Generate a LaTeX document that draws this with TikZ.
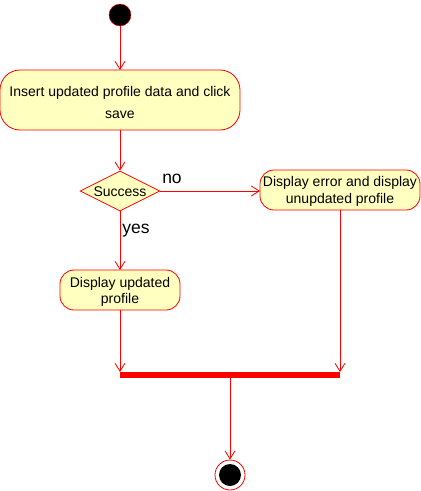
\documentclass[tikz,border=0pt]{standalone}
\usepackage{fontspec}
\setmainfont{Liberation Sans}
\usetikzlibrary{arrows.meta,shapes.geometric}
\definecolor{umlfill}{HTML}{FFFFC0}
\definecolor{umlred}{HTML}{FF0000}
\begin{document}
\begin{tikzpicture}[x=1pt,y=-1pt,
  act/.style={draw=umlred,fill=umlfill,rounded corners=#1,line width=0.8pt},
  act/.default=12pt,
  flow/.style={draw=umlred,line width=0.8pt,-{Straight Barb[length=8pt,width=10pt,line width=0.8pt]}},
  txt/.style={font=\fontsize{14}{16}\selectfont,inner sep=0pt,anchor=base},
  lbl/.style={font=\fontsize{17.5}{19}\selectfont,inner sep=0pt,anchor=base}]
\useasboundingbox (0,0) rectangle (421,491);
% start
\node[circle,draw=umlred,fill=black,minimum size=22pt,inner sep=0pt] (start) at (120,15) {};
% insert activity
\draw[act=20pt] (0,70) rectangle (240,130);
\node[txt] (ins1) at (120,96.5) {Insert updated profile data and click};
\node[txt] (ins2) at (120,118) {save};
\coordinate (insT) at (120,70);
\coordinate (insB) at (120,130);
% decision
\node[diamond,draw=umlred,fill=umlfill,line width=0.8pt,minimum width=80pt,minimum height=40pt,inner sep=0pt,aspect=2] (dec) at (120,191) {};
\node[txt] (succ) at (120,196.5) {Success};
% error
\draw[act=14pt] (260,170) rectangle (420,210);
\node[txt] (err1) at (340,186.5) {Display error and display};
\node[txt] (err2) at (340,203.5) {unupdated profile};
\coordinate (errL) at (260,191);
\coordinate (errB) at (340,210);
% display updated
\draw[act=14pt] (60,270) rectangle (180,310);
\node[txt] (disp1) at (120,287) {Display updated};
\node[txt] (disp2) at (120,303.5) {profile};
\coordinate (dispT) at (120,270);
\coordinate (dispB) at (120,310);
% bar
\fill[umlred] (120,372) rectangle (340,378);
\coordinate (barL) at (120,372);
\coordinate (barR) at (340,372);
\coordinate (barB) at (230,378);
% end
\node[circle,draw=umlred,fill=white,line width=0.8pt,minimum size=30pt,inner sep=0pt] (endo) at (230,475) {};
\node[circle,fill=black,minimum size=22pt,inner sep=0pt] (endi) at (230,475) {};
% flows
\draw[flow] (start.south) -- (insT);
\draw[flow] (insB) -- (dec.north);
\draw[flow] (dec.east) -- (errL);
\draw[flow] (dec.south) -- (dispT);
\draw[flow] (dispB) -- (barL);
\draw[flow] (errB) -- (barR);
\draw[flow] (barB) -- (endo.north);
% labels
\node[lbl] (no) at (172,183.3) {no};
\node[lbl] (yes) at (136,233.3) {yes};
\end{tikzpicture}
\end{document}
